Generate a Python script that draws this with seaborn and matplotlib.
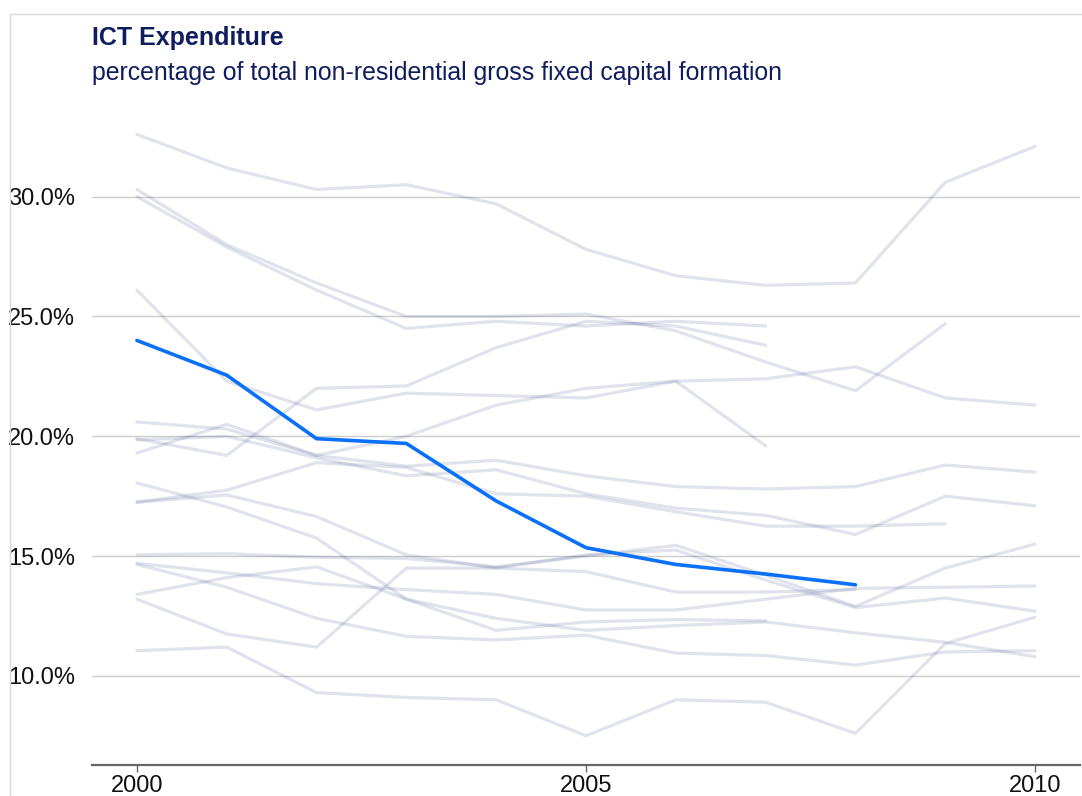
import numpy as np
import pandas as pd
import matplotlib
matplotlib.use("Agg")
import matplotlib.pyplot as plt
from matplotlib.patches import Rectangle
from matplotlib.ticker import FuncFormatter
import seaborn as sns

# values (percent), NaN where a series stops
years = [2000, 2001, 2002, 2003, 2004, 2005, 2006, 2007, 2008, 2009, 2010]
nan = np.nan

highlight = [24.0, 22.55, 19.9, 19.7, 17.3, 15.35, 14.65, 14.25, 13.8, nan, nan]

s_a = [32.6, 31.2, 30.3, 30.5, 29.7, 27.8, 26.7, 26.3, 26.4, 30.6, 32.1]
s_b = [30.3, 28.0, 26.4, 25.0, 25.0, 25.1, 24.4, 23.1, 21.9, 24.7, nan]
s_c = [30.0, 27.9, 26.1, 24.5, 24.8, 24.6, 24.8, 24.6, nan, nan, nan]
s_d = [26.1, 22.3, 21.1, 21.8, 21.7, 21.6, 22.3, 19.6, nan, nan, nan]
s_e = [19.9, 19.2, 22.0, 22.1, 23.7, 24.8, 24.6, 23.8, nan, nan, nan]
s_f = [19.3, 20.5, 19.2, 20.0, 21.3, 22.0, 22.3, 22.4, 22.9, 21.6, 21.3]
s_g = [20.6, 20.3, 19.2, 18.75, 19.0, 18.35, 17.9, 17.8, 17.9, 18.8, 18.5]
s_h = [19.85, 20.0, 19.1, 18.35, 18.6, 17.6, 17.0, 16.7, 15.9, 17.5, 17.1]
s_i = [17.25, 17.75, 18.9, 18.7, 17.6, 17.5, 16.85, 16.25, 16.25, 16.35, nan]
s_j = [15.05, 15.1, 14.95, 14.9, 14.55, 15.0, 15.45, 14.2, 12.9, 14.5, 15.5]
s_k = [17.25, 17.55, 16.65, 15.05, 14.5, 15.05, 15.25, 14.0, 12.85, 13.25, 12.7]
s_l = [13.2, 11.75, 11.2, 14.5, 14.5, 14.35, 13.5, 13.5, 13.6, nan, nan]
s_m = [14.7, 14.3, 13.85, 13.6, 13.4, 12.75, 12.75, 13.2, 13.65, 13.7, 13.75]
s_n = [13.4, 14.1, 14.55, 13.2, 12.4, 11.9, 12.1, 12.25, 11.8, 11.4, 10.8]
s_o = [18.05, 17.05, 15.75, 13.2, 11.9, 12.25, 12.35, 12.3, nan, nan, nan]
s_p = [14.65, 13.7, 12.4, 11.65, 11.5, 11.7, 10.95, 10.85, 10.45, 11.0, 11.05]
s_q = [11.05, 11.2, 9.3, 9.1, 9.0, 7.5, 9.0, 8.9, 7.6, 11.35, 12.45]

others = {"a": s_a, "b": s_b, "c": s_c, "d": s_d, "e": s_e, "f": s_f,
          "g": s_g, "h": s_h, "i": s_i, "j": s_j, "k": s_k, "l": s_l,
          "m": s_m, "n": s_n, "o": s_o, "p": s_p, "q": s_q}

rows = []
for name, vals in others.items():
    for y, v in zip(years, vals):
        rows.append({"series": name, "year": y, "value": v})
df = pd.DataFrame(rows).dropna()
hl = pd.DataFrame({"year": years, "value": highlight}).dropna()

sns.set_theme(style="white")
plt.rcParams["font.family"] = ["Liberation Sans", "DejaVu Sans"]

navy = "#0f1d5e"
fig = plt.figure(figsize=(10.82, 7.96), dpi=100)
ax = fig.add_axes([92 / 1082, 1 - 765 / 796, (1080 - 92) / 1082, (765 - 120) / 796])

sns.lineplot(data=df, x="year", y="value", units="series", estimator=None,
             color="#1a2a70", alpha=0.13, linewidth=2.3, ax=ax)
sns.lineplot(data=hl, x="year", y="value", color="#0a70f8", linewidth=2.6, ax=ax)

ax.set_xlim(1999.5, 2010.5)
ax.set_ylim(6.28, 33.2)
ax.set_xticks([2000, 2005, 2010])
ax.set_yticks([10, 15, 20, 25, 30])
ax.yaxis.set_major_formatter(FuncFormatter(lambda v, p: f"{v:.1f}%"))
ax.set_xlabel("")
ax.set_ylabel("")
ax.grid(axis="y", color="#cccccc", linewidth=1.0)
ax.set_axisbelow(True)
for side in ["top", "left", "right"]:
    ax.spines[side].set_visible(False)
ax.spines["bottom"].set_color("#666666")
ax.spines["bottom"].set_linewidth(1.6)
ax.tick_params(axis="x", length=5, width=1, color="#666666", labelsize=17,
               labelcolor="#111111", pad=2, bottom=True)
ax.tick_params(axis="y", length=0, labelsize=17, labelcolor="#111111", pad=12)

fig.text(92 / 1082, 1 - 38 / 796, "ICT Expenditure", fontsize=18,
         fontweight="bold", color=navy, va="center", ha="left")
fig.text(92 / 1082, 1 - 73 / 796,
         "percentage of total non-residential gross fixed capital formation",
         fontsize=17.9, color=navy, va="center", ha="left")

fig.patches.append(Rectangle((10 / 1082, -0.1), 1.2, 1 - 14 / 796 + 0.1,
                             transform=fig.transFigure, fill=False,
                             edgecolor="#d9d9d9", linewidth=1.0))

fig.savefig("out.png", dpi=100)
